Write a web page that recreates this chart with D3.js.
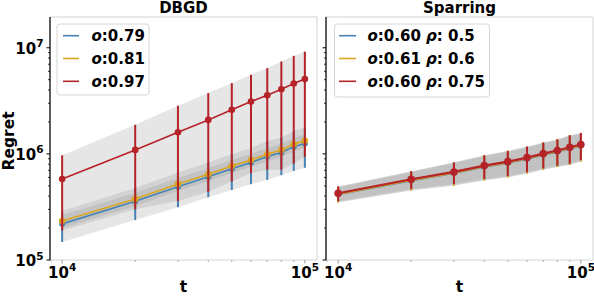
<!DOCTYPE html>
<html>
<head>
<meta charset="utf-8">
<script src="https://cdn.jsdelivr.net/npm/d3@7"></script>
<style>
  body { margin: 0; background: #fff; }
  svg { display: block; }
  text { font-family: "DejaVu Sans", sans-serif; font-weight: bold; fill: #000; }
</style>
</head>
<body>
<script>
// time steps
const steps = [1e4, 2e4, 3e4, 4e4, 5e4, 6e4, 7e4, 8e4, 9e4, 1e5];

// DBGD panel
const dbgdLabels = [["o", ":0.79"], ["o", ":0.81"], ["o", ":0.97"]];
const dbgdBlueMean = [2.19e5, 3.58e5, 4.9e5, 6.1e5, 7.25e5, 8.28e5, 9.44e5, 1.03e6, 1.17e6, 1.25e6];
const dbgdBlueStd = [7.1e4, 1.2e5, 1.76e5, 2.2e5, 2.68e5, 3.1e5, 3.75e5, 4.0e5, 4.8e5, 5.1e5];
const dbgdOrangeMean = [2.33e5, 3.76e5, 5.21e5, 6.43e5, 7.7e5, 8.77e5, 9.9e5, 1.09e6, 1.23e6, 1.33e6];
const dbgdOrangeStd = [3.3e4, 5.3e4, 7.3e4, 9.0e4, 1.08e5, 1.23e5, 1.39e5, 1.53e5, 1.72e5, 1.86e5];
const dbgdRedMean = [5.8e5, 1.09e6, 1.6e6, 2.09e6, 2.6e6, 3.11e6, 3.57e6, 4.07e6, 4.6e6, 5.07e6];
const dbgdRedStd = [3.9e5, 7.9e5, 1.24e6, 1.65e6, 2.05e6, 2.45e6, 2.86e6, 3.36e6, 3.79e6, 4.13e6];

// Sparring panel
const sparLabels = [["o", ":0.60 ", "ρ", ": 0.5"], ["o", ":0.61 ", "ρ", ": 0.6"], ["o", ":0.60 ", "ρ", ": 0.75"]];
const sparBlueMean = [4.17e5, 5.62e5, 6.6e5, 7.57e5, 8.25e5, 9.0e5, 9.82e5, 1.048e6, 1.128e6, 1.195e6];
const sparBlueStd = [6.6e4, 1.08e5, 1.55e5, 1.92e5, 2.2e5, 2.45e5, 2.7e5, 2.95e5, 3.4e5, 3.45e5];
const sparOrangeMean = [4.2e5, 5.68e5, 6.66e5, 7.65e5, 8.33e5, 9.1e5, 9.93e5, 1.06e6, 1.14e6, 1.208e6];
const sparOrangeStd = [7.2e4, 1.16e5, 1.64e5, 2.03e5, 2.33e5, 2.58e5, 2.83e5, 3.08e5, 3.53e5, 3.58e5];
const sparRedMean = [4.26e5, 5.77e5, 6.76e5, 7.76e5, 8.45e5, 9.23e5, 1.007e6, 1.075e6, 1.156e6, 1.225e6];
const sparRedStd = [6.8e4, 1.1e5, 1.57e5, 1.95e5, 2.25e5, 2.5e5, 2.75e5, 3.0e5, 3.45e5, 3.5e5];

const colors = ["#4682b4", "#daa520", "#b52228"];

const width = 594, height = 296;
const plotTop = 17, plotBottom = 260;

const svg = d3.select("body").append("svg")
    .attr("width", width)
    .attr("height", height);

// shared y scale (log)
const y = d3.scaleLog().domain([1e5, Math.pow(10, 7.29)]).range([plotBottom, plotTop]);

function drawPanel(x0, x1, title, series, labels, legendBox, showYLabels, lw) {
    const x = d3.scaleLog().domain([Math.pow(10, 3.95), Math.pow(10, 5.05)]).range([x0, x1]);
    const g = svg.append("g");

    // bands first (grey, alpha 0.2)
    series.forEach(function (s) {
        const area = d3.area()
            .x((d, i) => x(steps[i]))
            .y0((d, i) => y(Math.max(s.mean[i] - s.std[i], 1)))
            .y1((d, i) => y(s.mean[i] + s.std[i]));
        g.append("path")
            .attr("d", area(s.mean))
            .attr("fill", "grey")
            .attr("fill-opacity", 0.2);
    });

    // error bars, line, markers
    series.forEach(function (s, k) {
        g.append("g").selectAll("line")
            .data(s.mean)
            .join("line")
            .attr("x1", (d, i) => x(steps[i]))
            .attr("x2", (d, i) => x(steps[i]))
            .attr("y1", (d, i) => y(Math.max(d - s.std[i], 1)))
            .attr("y2", (d, i) => y(d + s.std[i]))
            .attr("stroke", colors[k])
            .attr("stroke-width", 2);

        const line = d3.line()
            .x((d, i) => x(steps[i]))
            .y(d => y(d));
        g.append("path")
            .attr("d", line(s.mean))
            .attr("fill", "none")
            .attr("stroke", colors[k])
            .attr("stroke-width", lw);

        g.append("g").selectAll("circle")
            .data(s.mean)
            .join("circle")
            .attr("cx", (d, i) => x(steps[i]))
            .attr("cy", d => y(d))
            .attr("r", s.r)
            .attr("fill", colors[k]);
    });

    // spines
    g.append("rect")
        .attr("x", x0).attr("y", plotTop)
        .attr("width", x1 - x0).attr("height", plotBottom - plotTop)
        .attr("fill", "none")
        .attr("stroke", "#d4d4d4")
        .attr("stroke-width", 1);
    g.append("line")
        .attr("x1", x0).attr("x2", x0)
        .attr("y1", plotTop).attr("y2", plotBottom)
        .attr("stroke", "#000")
        .attr("stroke-width", 1.2);

    // y ticks
    const yMajor = [1e5, 1e6, 1e7];
    const yMinor = [];
    [1e5, 1e6, 1e7].forEach(function (b) {
        for (let m = 2; m <= 9; m++) {
            const v = b * m;
            if (y(v) >= plotTop) yMinor.push(v);
        }
    });
    g.selectAll(".ymaj")
        .data(yMajor)
        .join("line")
        .attr("x1", x0 - 3.5).attr("x2", x0)
        .attr("y1", d => y(d)).attr("y2", d => y(d))
        .attr("stroke", "#000");
    g.selectAll(".ymin")
        .data(yMinor)
        .join("line")
        .attr("x1", x0 - 2).attr("x2", x0)
        .attr("y1", d => y(d)).attr("y2", d => y(d))
        .attr("stroke", "#000")
        .attr("stroke-width", 0.8);
    if (showYLabels) {
        const lab = g.selectAll(".ylab")
            .data(yMajor)
            .join("text")
            .attr("x", x0 - 6.5)
            .attr("y", d => y(d) + 6)
            .attr("text-anchor", "end")
            .attr("font-size", 15);
        lab.append("tspan").text("10");
        lab.append("tspan")
            .attr("dy", -6.5)
            .attr("font-size", 10.5)
            .text(d => Math.round(Math.log10(d)));
    }

    // x ticks
    const xMinor = [9e3].concat(steps.slice(1, 9));
    g.selectAll(".xmin")
        .data(xMinor)
        .join("line")
        .attr("x1", d => x(d)).attr("x2", d => x(d))
        .attr("y1", plotBottom).attr("y2", plotBottom + 2)
        .attr("stroke", "#999")
        .attr("stroke-width", 0.8);
    g.selectAll(".xmaj")
        .data([1e4, 1e5])
        .join("line")
        .attr("x1", d => x(d)).attr("x2", d => x(d))
        .attr("y1", plotBottom).attr("y2", plotBottom + 3.5)
        .attr("stroke", "#999");
    const xl = g.selectAll(".xlab")
        .data([1e4, 1e5])
        .join("text")
        .attr("x", d => x(d))
        .attr("y", plotBottom + 17.5)
        .attr("text-anchor", "middle")
        .attr("font-size", 15);
    xl.append("tspan").text("10");
    xl.append("tspan")
        .attr("dy", -6.5)
        .attr("font-size", 10.5)
        .text(d => Math.round(Math.log10(d)));

    // title and x label
    g.append("text")
        .attr("x", (x0 + x1) / 2).attr("y", 12.8)
        .attr("text-anchor", "middle")
        .attr("font-size", 15)
        .text(title);
    g.append("text")
        .attr("x", (x0 + x1) / 2).attr("y", 291.5)
        .attr("text-anchor", "middle")
        .attr("font-size", 15.5)
        .text("t");

    // legend
    const lg = g.append("g");
    lg.append("rect")
        .attr("x", legendBox.x).attr("y", 24)
        .attr("width", legendBox.w).attr("height", legendBox.h)
        .attr("rx", 3)
        .attr("fill", "#fff").attr("fill-opacity", 0.8)
        .attr("stroke", "#d6d6d6");
    labels.forEach(function (parts, k) {
        const ly = 35.7 + k * 22.8;
        lg.append("line")
            .attr("x1", legendBox.lx).attr("x2", legendBox.lx + legendBox.ll)
            .attr("y1", ly).attr("y2", ly)
            .attr("stroke", colors[k])
            .attr("stroke-width", 1.6);
        const t = lg.append("text")
            .attr("x", legendBox.tx)
            .attr("y", ly + 5.6)
            .attr("font-size", 15);
        parts.forEach(function (p, j) {
            t.append("tspan")
                .attr("font-style", j % 2 === 0 ? "italic" : "normal")
                .text(p);
        });
    });
}

drawPanel(50, 317, "DBGD", [
    { mean: dbgdBlueMean, std: dbgdBlueStd, r: 3 },
    { mean: dbgdOrangeMean, std: dbgdOrangeStd, r: 3.3 },
    { mean: dbgdRedMean, std: dbgdRedStd, r: 3.3 }
], dbgdLabels, { x: 57, w: 92, h: 71, lx: 63, ll: 16, tx: 91.5 }, true, 1.6);

drawPanel(326, 593, "Sparring", [
    { mean: sparBlueMean, std: sparBlueStd, r: 3 },
    { mean: sparOrangeMean, std: sparOrangeStd, r: 3 },
    { mean: sparRedMean, std: sparRedStd, r: 3.8 }
], sparLabels, { x: 334.5, w: 155, h: 73, lx: 339, ll: 17, tx: 367.5 }, false, 2.2);

// y axis label
svg.append("text")
    .attr("transform", "translate(13.5,141) rotate(-90)")
    .attr("text-anchor", "middle")
    .attr("font-size", 15.5)
    .text("Regret");
</script>
</body>
</html>
